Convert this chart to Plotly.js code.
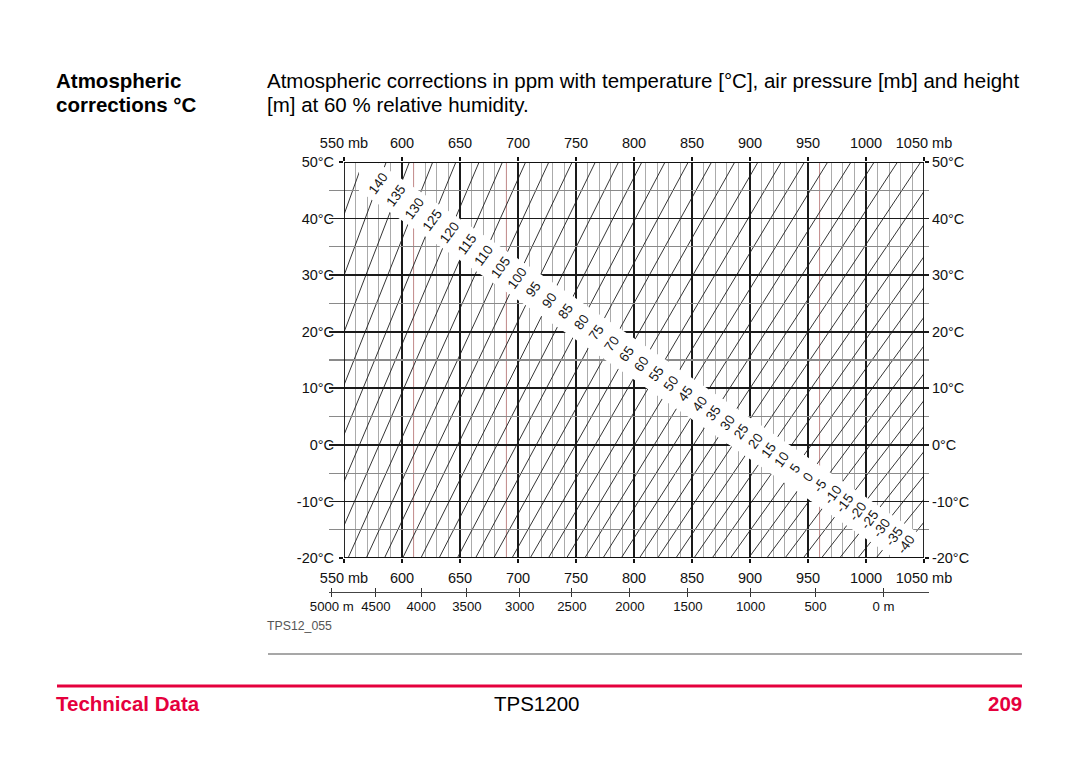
<!DOCTYPE html>
<html>
<head>
<meta charset="utf-8">
<script src="https://cdn.plot.ly/plotly-3.0.1.min.js"></script>
<style>
html,body{margin:0;padding:0;background:#fff;}
#chart{width:1080px;height:766px;}
</style>
</head>
<body>
<div id="chart"></div>
<script>
// ---------------- data ----------------
const pressureTicks = [550, 600, 650, 700, 750, 800, 850, 900, 950, 1000, 1050];
const pressureLabels = ['550 mb', '600', '650', '700', '750', '800', '850', '900', '950', '1000', '1050 mb'];
const temperatureTicks = [-20, -10, 0, 10, 20, 30, 40, 50];
const temperatureLabels = ['-20°C', '-10°C', '0°C', '10°C', '20°C', '30°C', '40°C', '50°C'];
const heightLabels = ['5000 m', '4500', '4000', '3500', '3000', '2500', '2000', '1500', '1000', '500', '0 m'];
const heightPressures = [539.5, 577.5, 616.5, 656, 701.5, 746.5, 796.5, 846.5, 900.5, 956.5, 1015];

// ppm isolines: pressure (mb) where each line meets the -20 °C and the 50 °C level
const ppmLevels = [150, 145, 140, 135, 130, 125, 120, 115, 110, 105, 100, 95, 90, 85, 80, 75, 70, 65, 60, 55,
                   50, 45, 40, 35, 30, 25, 20, 15, 10, 5, 0, -5, -10, -15, -20, -25, -30, -35, -40, -45];
const isolineTemps = [-20, 50];
const pressureAtMinus20 = [428.0, 443.7, 459.4, 475.1, 490.7, 506.4, 522.1, 537.8, 553.5, 569.2, 584.9, 600.6, 616.3, 632.0, 647.7, 663.4, 679.1, 694.8, 710.5, 726.2,
                           741.9, 757.6, 773.3, 789.0, 804.7, 820.4, 836.1, 851.7, 867.4, 883.1, 898.8, 914.5, 930.2, 945.9, 961.6, 977.3, 993.0, 1008.7, 1024.4, 1040.1];
const pressureAt50 = [546.3, 566.3, 586.4, 606.4, 626.5, 646.5, 666.5, 686.6, 706.6, 726.6, 746.7, 766.7, 786.7, 806.8, 826.8, 846.8, 866.9, 886.9, 906.9, 927.0,
                      947.0, 967.0, 987.1, 1007.1, 1027.2, 1047.2, 1067.2, 1087.3, 1107.3, 1127.3, 1147.4, 1167.4, 1187.4, 1207.5, 1227.5, 1247.5, 1267.6, 1287.6, 1307.6, 1327.7];
const labelledLevels = [140, 135, 130, 125, 120, 115, 110, 105, 100, 95, 90, 85, 80, 75, 70, 65, 60, 55, 50, 45,
                        40, 35, 30, 25, 20, 15, 10, 5, 0, -5, -10, -15, -20, -25, -30, -35, -40];

// ---------------- layout geometry ----------------
const W = 1080, H = 766, ML = 329, MR = 151, MT = 162, MB = 174;
const PW = W - ML - MR, PH = H - MT - MB;
const xp = px => (px - ML) / PW;
const yp = py => (H - MB - py) / PH;
const PX0 = 344, PX1 = 924, PY0 = 558, PY1 = 162;
const P0 = 550, P1 = 1050, T0 = -20, T1 = 50;
const toPx = p => PX0 + (p - P0) * (PX1 - PX0) / (P1 - P0);
const toPy = t => PY0 - (t - T0) * (PY0 - PY1) / (T1 - T0);
const fromPx = x => P0 + (x - PX0) * (P1 - P0) / (PX1 - PX0);
const fromPy = y => T0 + (PY0 - y) * (T1 - T0) / (PY0 - PY1);

const FONT = 'Liberation Sans, Arial, Helvetica, sans-serif';
const RED = '#e5003d';

// ---------------- traces ----------------
const isoX = [], isoY = [];
ppmLevels.forEach((L, i) => {
  isoX.push(pressureAtMinus20[i], pressureAt50[i], null);
  isoY.push(isolineTemps[0], isolineTemps[1], null);
});

const traces = [
  {type: 'scatter', mode: 'lines', x: isoX, y: isoY, xaxis: 'x', yaxis: 'y',
   line: {color: '#1e1e1e', width: 0.9}, hoverinfo: 'skip', showlegend: false, connectgaps: false},
  {type: 'scatter', mode: 'markers', x: [null], y: [null], xaxis: 'x3', yaxis: 'y', showlegend: false, hoverinfo: 'skip'},
  {type: 'scatter', mode: 'markers', x: [null], y: [null], xaxis: 'x', yaxis: 'y2', showlegend: false, hoverinfo: 'skip'},
  {type: 'scatter', mode: 'markers', x: [null], y: [null], xaxis: 'x2', yaxis: 'y', showlegend: false, hoverinfo: 'skip'},
  {type: 'scatter', mode: 'markers', x: [null], y: [null], xaxis: 'x4', yaxis: 'y', showlegend: false, hoverinfo: 'skip'}
];

// ---------------- label positions on the band centre line ----------------
const cA = [375.7, 181.8], cB = [907, 545];
function intersect(ax, ay, bx, by) {
  const r1x = bx - ax, r1y = by - ay, r2x = cB[0] - cA[0], r2y = cB[1] - cA[1];
  const den = r1x * r2y - r1y * r2x;
  if (Math.abs(den) < 1e-9) return null;
  const s = ((cA[0] - ax) * r2y - (cA[1] - ay) * r2x) / den;
  return [ax + s * r1x, ay + s * r1y];
}
const labelAnns = [];
labelledLevels.forEach(L => {
  const i = ppmLevels.indexOf(L);
  const hit = intersect(toPx(pressureAtMinus20[i]), toPy(isolineTemps[0]), toPx(pressureAt50[i]), toPy(isolineTemps[1]));
  if (!hit) return;
  labelAnns.push({
    x: fromPx(hit[0]), y: fromPy(hit[1]), xref: 'x', yref: 'y', text: String(L), showarrow: false,
    textangle: -54, font: {family: FONT, size: 13.5, color: '#151515'}, xanchor: 'center', yanchor: 'middle'
  });
});

// ---------------- shapes ----------------
const band = [[562.9, 50], [578.4, 50], [1050, -16.29], [1050, -20], [1024.1, -20], [562.9, 44.87]];
const bandPath = 'M ' + band.map(p => p[0] + ',' + p[1]).join(' L ') + ' Z';

const shapes = [
  ...[610, 690, 960].map(v => ({type: 'line', xref: 'x', yref: 'y', x0: v, x1: v, y0: T0, y1: T1,
    layer: 'between', line: {color: '#c99090', width: 1}})),
  {type: 'path', xref: 'x', yref: 'y', path: bandPath, fillcolor: '#ffffff', line: {width: 0}, layer: 'above'},
  {type: 'rect', xref: 'x', yref: 'y', x0: P0, x1: P1, y0: T0, y1: T1, line: {color: '#111', width: 1.8},
    fillcolor: 'rgba(0,0,0,0)', layer: 'above'},
  {type: 'line', xref: 'paper', yref: 'paper', x0: xp(268), x1: xp(1022), y0: yp(654), y1: yp(654),
    line: {color: '#8a8a8a', width: 1.5}},
  {type: 'line', xref: 'paper', yref: 'paper', x0: xp(57), x1: xp(1022), y0: yp(686), y1: yp(686),
    line: {color: RED, width: 3}}
];

const textAnn = (text, x, y, opts = {}) => Object.assign({
  text, x: xp(x), y: yp(y), xref: 'paper', yref: 'paper', showarrow: false, borderpad: 0, borderwidth: 0,
  xanchor: 'left', yanchor: 'middle', font: {family: FONT, size: 20.5, color: '#000'}
}, opts);

const annotations = [
  textAnn('<b>Atmospheric</b>', 56, 80),
  textAnn('<b>corrections °C</b>', 56, 105),
  textAnn('Atmospheric corrections in ppm with temperature [°C], air pressure [mb] and height', 267, 80),
  textAnn('[m] at 60 % relative humidity.', 267, 105),
  textAnn('TPS12_055', 267, 626, {font: {family: FONT, size: 12.3, color: '#555'}}),
  textAnn('<b>Technical Data</b>', 56, 703, {font: {family: FONT, size: 20.5, color: RED}}),
  textAnn('TPS1200', 536, 703, {xanchor: 'center'}),
  textAnn('<b>209</b>', 1022, 703, {xanchor: 'right', font: {family: FONT, size: 20.5, color: RED}}),
  ...labelAnns
];

const tickFont = {family: FONT, size: 14.5, color: '#111'};
const layout = {
  width: W, height: H,
  margin: {l: ML, r: MR, t: MT, b: MB, pad: 0},
  paper_bgcolor: '#fff', plot_bgcolor: 'rgba(0,0,0,0)',
  showlegend: false, hovermode: false,
  font: {family: FONT},
  xaxis: {
    domain: [xp(PX0), xp(PX1)], range: [P0, P1], anchor: 'y',
    tickmode: 'array', tickvals: pressureTicks, ticktext: pressureLabels, tickfont: tickFont,
    ticks: 'outside', ticklen: 4, tickwidth: 1.5, tickcolor: '#111', ticklabelstandoff: 3,
    showgrid: true, gridcolor: '#1a1a1a', gridwidth: 1.8, zeroline: false, showline: false,
    minor: {tickmode: 'linear', tick0: 550, dtick: 10, showgrid: true, gridcolor: '#ababab', gridwidth: 1.3, ticks: ''}
  },
  xaxis3: {
    overlaying: 'x', side: 'top', anchor: 'y', range: [P0, P1],
    tickmode: 'array', tickvals: pressureTicks, ticktext: pressureLabels, tickfont: tickFont,
    ticks: 'outside', ticklen: 4, tickwidth: 1.5, tickcolor: '#111', ticklabelstandoff: 3,
    showgrid: false, zeroline: false
  },
  xaxis2: {
    domain: [0, 1], range: [fromPx(ML), fromPx(W - MR)], anchor: 'free', position: 0,
    tickmode: 'array', tickvals: heightPressures, ticktext: heightLabels,
    tickfont: {family: FONT, size: 13.2, color: '#111'},
    ticks: 'outside', ticklen: 4, tickwidth: 1, tickcolor: '#333', ticklabelstandoff: -2,
    showline: true, linecolor: '#444', linewidth: 1, showgrid: false, zeroline: false
  },
  xaxis4: {
    domain: [0, 1], range: [fromPx(ML), fromPx(W - MR)], anchor: 'free', position: 0,
    tickmode: 'array', tickvals: heightPressures, showticklabels: false,
    ticks: 'inside', ticklen: 4, tickwidth: 1, tickcolor: '#333',
    showline: false, showgrid: false, zeroline: false
  },
  yaxis: {
    domain: [yp(PY0), yp(PY1)], range: [T0, T1], anchor: 'x',
    tickmode: 'array', tickvals: temperatureTicks, ticktext: temperatureLabels, tickfont: tickFont,
    ticks: 'outside', ticklen: 4, tickwidth: 1.5, tickcolor: '#111', ticklabelstandoff: 2,
    showgrid: true, gridcolor: '#1a1a1a', gridwidth: 1.8, zeroline: false, showline: false,
    minor: {tickmode: 'linear', tick0: -20, dtick: 5, showgrid: true, gridcolor: '#8a8a8a', gridwidth: 1.1, ticks: ''}
  },
  yaxis2: {
    overlaying: 'y', side: 'right', anchor: 'x', range: [T0, T1],
    tickmode: 'array', tickvals: temperatureTicks, ticktext: temperatureLabels, tickfont: tickFont,
    ticks: 'outside', ticklen: 4, tickwidth: 1.5, tickcolor: '#111', showgrid: false, zeroline: false
  },
  shapes, annotations
};

Plotly.newPlot('chart', traces, layout, {staticPlot: true, displayModeBar: false});
</script>
</body>
</html>
